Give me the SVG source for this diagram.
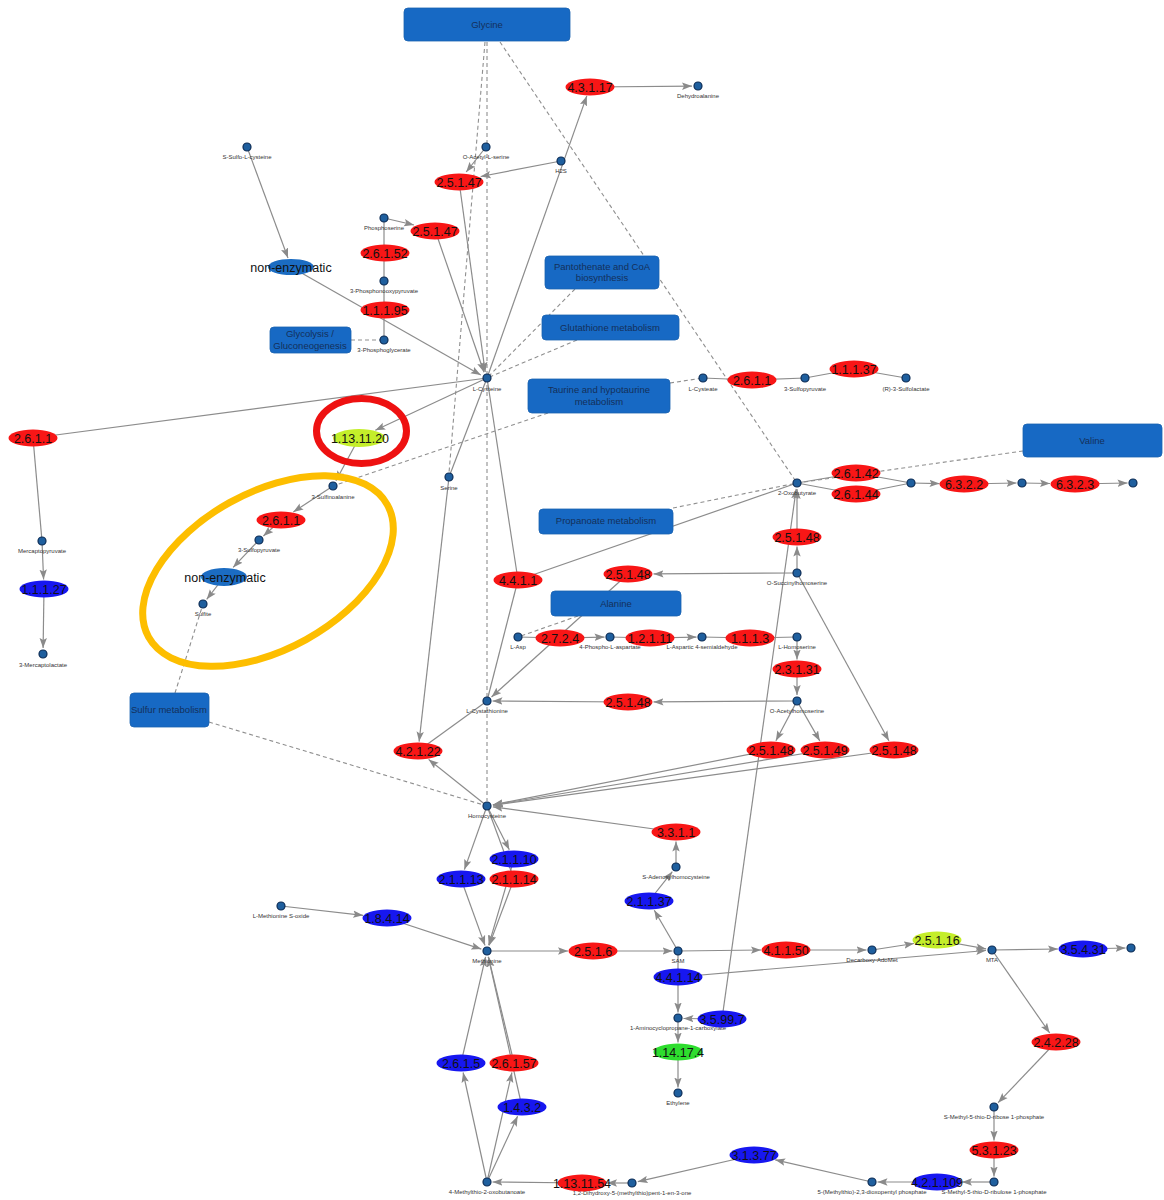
<svg xmlns="http://www.w3.org/2000/svg" width="1164" height="1200" viewBox="0 0 1164 1200">
<defs>
<marker id="arr" markerUnits="userSpaceOnUse" markerWidth="11" markerHeight="8" refX="10" refY="4" orient="auto"><path d="M0,0.3 L10,4 L0,7.7 L2,4 Z" fill="#8a8a8a"/></marker>
</defs>
<style>
.e{stroke:#8c8c8c;stroke-width:1.2;fill:none}
.a{marker-end:url(#arr)}
.d{stroke:#8f8f8f;stroke-width:1.1;stroke-dasharray:4 3;fill:none}
.m circle{fill:#1f5f9e;stroke:#0d2c55;stroke-width:1.2}
.ml{font-family:"Liberation Sans",Arial,sans-serif;font-size:6px;fill:#333;text-anchor:middle}
.t{font-family:"Liberation Sans",Arial,sans-serif;font-size:12.5px;fill:#111;text-anchor:middle}
.red{fill:#f81616}
.blu{fill:#1717f0}
.yg{fill:#c4ee2a}
.grn{fill:#2edd2e}
.ne{fill:#1b6cc2}
.box rect{fill:#1769c4;stroke:#1a62b0;stroke-width:0.8}
.bt{font-family:"Liberation Sans",Arial,sans-serif;font-size:9.5px;fill:#14305a;text-anchor:middle}
</style>
<rect width="1164" height="1200" fill="#ffffff"/>
<g id="connectors">
<line class="d" x1="487" y1="42" x2="487" y2="801"/>
<line class="d" x1="485" y1="42" x2="449" y2="473"/>
<line class="d" x1="500" y1="42" x2="797" y2="483"/>
<line class="d" x1="575" y1="289" x2="487" y2="378"/>
<line class="d" x1="577" y1="340" x2="487" y2="378"/>
<line class="d" x1="548" y1="413" x2="333" y2="486"/>
<line class="d" x1="670" y1="383" x2="703" y2="378"/>
<line class="d" x1="351" y1="340" x2="384" y2="340"/>
<line class="d" x1="1023" y1="451" x2="797" y2="483"/>
<line class="d" x1="673" y1="508" x2="797" y2="483"/>
<line class="d" x1="578" y1="616" x2="518" y2="637"/>
<line class="d" x1="175" y1="693" x2="203" y2="604"/>
<line class="d" x1="209" y1="722" x2="487" y2="806"/>
<line class="e a" x1="247" y1="147" x2="288" y2="258"/>
<line class="e a" x1="291" y1="267" x2="480.8" y2="375"/>
<line class="e" x1="384" y1="218" x2="384" y2="340"/>
<line class="e a" x1="384" y1="218" x2="414" y2="225"/>
<line class="e a" x1="435" y1="230" x2="484" y2="372.3"/>
<line class="e a" x1="459" y1="181" x2="485.2" y2="372"/>
<line class="e a" x1="486" y1="147" x2="466.2" y2="172"/>
<line class="e a" x1="561" y1="161" x2="480.7" y2="176.5"/>
<line class="e a" x1="487" y1="378" x2="586.8" y2="95.9"/>
<line class="e a" x1="590" y1="87" x2="692" y2="86.1"/>
<line class="e" x1="487" y1="378" x2="33" y2="438"/>
<line class="e" x1="33" y1="438" x2="42" y2="541"/>
<line class="e a" x1="42" y1="541" x2="43.6" y2="579.5"/>
<line class="e a" x1="44" y1="589" x2="43.1" y2="648"/>
<line class="e a" x1="487" y1="378" x2="375.3" y2="430.3"/>
<line class="e a" x1="359" y1="438" x2="335.9" y2="480.7"/>
<line class="e a" x1="333" y1="486" x2="293.3" y2="512"/>
<line class="e a" x1="281" y1="520" x2="263.4" y2="536"/>
<line class="e a" x1="259" y1="540" x2="233.1" y2="567.4"/>
<line class="e a" x1="224" y1="577" x2="206.7" y2="599.3"/>
<line class="e" x1="487" y1="378" x2="449" y2="477"/>
<line class="e a" x1="449" y1="477" x2="419.1" y2="741.6"/>
<line class="e" x1="487" y1="378" x2="518" y2="580"/>
<line class="e" x1="518" y1="580" x2="487" y2="701"/>
<line class="e" x1="518" y1="580" x2="797" y2="483"/>
<line class="e" x1="703" y1="378" x2="752" y2="380"/>
<line class="e" x1="752" y1="380" x2="805" y2="378"/>
<line class="e" x1="805" y1="378" x2="854" y2="369"/>
<line class="e" x1="854" y1="369" x2="906" y2="378"/>
<line class="e" x1="797" y1="483" x2="856" y2="473"/>
<line class="e" x1="797" y1="483" x2="856" y2="494"/>
<line class="e" x1="856" y1="473" x2="911" y2="483"/>
<line class="e" x1="856" y1="494" x2="911" y2="483"/>
<line class="e a" x1="911" y1="483" x2="939.5" y2="483.6"/>
<line class="e a" x1="964" y1="484" x2="1016.5" y2="483"/>
<line class="e a" x1="1022" y1="483" x2="1050" y2="483.5"/>
<line class="e a" x1="1075" y1="484" x2="1127.5" y2="483"/>
<line class="e a" x1="797" y1="573" x2="797" y2="546.5"/>
<line class="e a" x1="797" y1="537" x2="797" y2="489"/>
<line class="e a" x1="722" y1="1019" x2="796.2" y2="488.9"/>
<line class="e a" x1="797" y1="573" x2="653.5" y2="573.9"/>
<line class="e a" x1="628" y1="574" x2="491.5" y2="697"/>
<line class="e a" x1="797" y1="573" x2="888.9" y2="740.8"/>
<line class="e" x1="518" y1="637" x2="560" y2="638"/>
<line class="e a" x1="560" y1="638" x2="604.5" y2="637.1"/>
<line class="e" x1="610" y1="637" x2="650" y2="638"/>
<line class="e a" x1="650" y1="638" x2="696.5" y2="637.1"/>
<line class="e" x1="702" y1="637" x2="750" y2="638"/>
<line class="e" x1="750" y1="638" x2="797" y2="637"/>
<line class="e a" x1="797" y1="637" x2="797" y2="659.5"/>
<line class="e a" x1="797" y1="669" x2="797" y2="695"/>
<line class="e a" x1="797" y1="701" x2="653.5" y2="701.9"/>
<line class="e a" x1="628" y1="702" x2="492.5" y2="701"/>
<line class="e" x1="487" y1="701" x2="418" y2="751"/>
<line class="e a" x1="487" y1="806" x2="428.6" y2="759.4"/>
<line class="e a" x1="797" y1="701" x2="775.9" y2="740.7"/>
<line class="e a" x1="797" y1="701" x2="819.8" y2="740.9"/>
<line class="e a" x1="771" y1="750" x2="492.9" y2="804.8"/>
<line class="e a" x1="825" y1="750" x2="492.9" y2="805"/>
<line class="e a" x1="894" y1="750" x2="492.9" y2="805.2"/>
<line class="e a" x1="676" y1="832" x2="492.9" y2="806.8"/>
<line class="e a" x1="676" y1="867" x2="676" y2="841.5"/>
<line class="e a" x1="678" y1="951" x2="654.3" y2="910.2"/>
<line class="e a" x1="649" y1="901" x2="672.3" y2="871.7"/>
<line class="e a" x1="487" y1="806" x2="464.4" y2="869.6"/>
<line class="e a" x1="487" y1="806" x2="509.3" y2="849.7"/>
<line class="e" x1="487" y1="806" x2="514" y2="879"/>
<line class="e a" x1="461" y1="879" x2="485" y2="945.4"/>
<line class="e a" x1="514" y1="859" x2="488.7" y2="945.2"/>
<line class="e a" x1="514" y1="879" x2="489.1" y2="945.4"/>
<line class="e a" x1="281" y1="906" x2="363.1" y2="915.3"/>
<line class="e a" x1="387" y1="918" x2="481.3" y2="949.1"/>
<line class="e a" x1="487" y1="951" x2="568" y2="951"/>
<line class="e a" x1="593" y1="951" x2="672.5" y2="951"/>
<line class="e a" x1="678" y1="951" x2="761" y2="950"/>
<line class="e a" x1="786" y1="950" x2="866.5" y2="950"/>
<line class="e a" x1="872" y1="950" x2="914" y2="943.5"/>
<line class="e a" x1="937" y1="940" x2="986.1" y2="948.9"/>
<line class="e a" x1="678" y1="977" x2="986" y2="950.5"/>
<line class="e a" x1="992" y1="950" x2="1058" y2="949"/>
<line class="e a" x1="1083" y1="949" x2="1125.5" y2="948"/>
<line class="e" x1="678" y1="951" x2="678" y2="977"/>
<line class="e a" x1="678" y1="977" x2="678" y2="1012.5"/>
<line class="e a" x1="722" y1="1019" x2="683.5" y2="1018.5"/>
<line class="e a" x1="678" y1="1018" x2="678" y2="1042.5"/>
<line class="e a" x1="678" y1="1052" x2="678" y2="1087.5"/>
<line class="e a" x1="992" y1="950" x2="1049.7" y2="1033"/>
<line class="e a" x1="1056" y1="1042" x2="998.1" y2="1102.7"/>
<line class="e a" x1="994" y1="1107" x2="994" y2="1140.5"/>
<line class="e a" x1="994" y1="1150" x2="994" y2="1176.5"/>
<line class="e a" x1="994" y1="1182" x2="962" y2="1182"/>
<line class="e a" x1="937" y1="1182" x2="877.5" y2="1182"/>
<line class="e a" x1="872" y1="1182" x2="775.2" y2="1159.8"/>
<line class="e a" x1="754" y1="1155" x2="637.8" y2="1181.7"/>
<line class="e a" x1="632" y1="1183" x2="607" y2="1183"/>
<line class="e a" x1="582" y1="1183" x2="492.5" y2="1182"/>
<line class="e a" x1="487" y1="1182" x2="463.1" y2="1072.5"/>
<line class="e a" x1="487" y1="1182" x2="511.9" y2="1072.5"/>
<line class="e a" x1="487" y1="1182" x2="517.6" y2="1116.3"/>
<line class="e a" x1="461" y1="1063" x2="485.6" y2="956.8"/>
<line class="e a" x1="514" y1="1063" x2="488.4" y2="956.8"/>
<line class="e a" x1="522" y1="1107" x2="488.3" y2="956.9"/>
</g>
<g id="pathways" class="box">
<g id="p_glycine"><rect x="404" y="8" width="166" height="33" rx="4"/><text class="bt" x="487" y="28">Glycine</text></g>
<g id="p_pantothenate"><rect x="545" y="256" width="114" height="33" rx="4"/><text class="bt" x="602" y="270">Pantothenate and CoA</text><text class="bt" x="602" y="281">biosynthesis</text></g>
<g id="p_glutathione"><rect x="542" y="315" width="137" height="25" rx="4"/><text class="bt" x="610" y="331">Glutathione metabolism</text></g>
<g id="p_glycolysis"><rect x="270" y="327" width="81" height="26" rx="4"/><text class="bt" x="310" y="337">Glycolysis /</text><text class="bt" x="310" y="349">Gluconeogenesis</text></g>
<g id="p_taurine"><rect x="528" y="379" width="142" height="34" rx="4"/><text class="bt" x="599" y="393">Taurine and hypotaurine</text><text class="bt" x="599" y="405">metabolism</text></g>
<g id="p_valine"><rect x="1023" y="424" width="139" height="33" rx="4"/><text class="bt" x="1092" y="444">Valine</text></g>
<g id="p_propanoate"><rect x="539" y="509" width="134" height="25" rx="4"/><text class="bt" x="606" y="524">Propanoate metabolism</text></g>
<g id="p_alanine"><rect x="551" y="591" width="130" height="25" rx="4"/><text class="bt" x="616" y="607">Alanine</text></g>
<g id="p_sulfur"><rect x="130" y="693" width="79" height="34" rx="4"/><text class="bt" x="169" y="713">Sulfur metabolism</text></g>
</g>
<g id="metabolites" class="m">
<g id="m_ssulfo"><circle cx="247" cy="147" r="4"/><text class="ml" x="247" y="159">S-Sulfo-L-cysteine</text></g>
<g id="m_oacser"><circle cx="486" cy="147" r="4"/><text class="ml" x="486" y="159">O-Acetyl-L-serine</text></g>
<g id="m_h2s"><circle cx="561" cy="161" r="4"/><text class="ml" x="561" y="173">H2S</text></g>
<g id="m_dehydroala"><circle cx="698" cy="86" r="4"/><text class="ml" x="698" y="98">Dehydroalanine</text></g>
<g id="m_phosphoser"><circle cx="384" cy="218" r="4"/><text class="ml" x="384" y="230">Phosphoserine</text></g>
<g id="m_3ppyr"><circle cx="384" cy="281" r="4"/><text class="ml" x="384" y="293">3-Phosphonooxypyruvate</text></g>
<g id="m_3pg"><circle cx="384" cy="340" r="4"/><text class="ml" x="384" y="352">3-Phosphoglycerate</text></g>
<g id="m_lcys"><circle cx="487" cy="378" r="4"/><text class="ml" x="487" y="391">L-Cysteine</text></g>
<g id="m_lcysteate"><circle cx="703" cy="378" r="4"/><text class="ml" x="703" y="391">L-Cysteate</text></g>
<g id="m_3sp_r"><circle cx="805" cy="378" r="4"/><text class="ml" x="805" y="391">3-Sulfopyruvate</text></g>
<g id="m_r3sl"><circle cx="906" cy="378" r="4"/><text class="ml" x="906" y="391">(R)-3-Sulfolactate</text></g>
<g id="m_serine"><circle cx="449" cy="477" r="4"/><text class="ml" x="449" y="490">Serine</text></g>
<g id="m_3sulfinoala"><circle cx="333" cy="486" r="4"/><text class="ml" x="333" y="499">3-Sulfinoalanine</text></g>
<g id="m_2oxobut"><circle cx="797" cy="483" r="4"/><text class="ml" x="797" y="495">2-Oxobutyrate</text></g>
<g id="m_x1"><circle cx="911" cy="483" r="4"/></g>
<g id="m_x2"><circle cx="1022" cy="483" r="4"/></g>
<g id="m_x3"><circle cx="1133" cy="483" r="4"/></g>
<g id="m_3sp_l"><circle cx="259" cy="540" r="4"/><text class="ml" x="259" y="552">3-Sulfopyruvate</text></g>
<g id="m_mercpyr"><circle cx="42" cy="541" r="4"/><text class="ml" x="42" y="553">Mercaptopyruvate</text></g>
<g id="m_osuchser"><circle cx="797" cy="573" r="4"/><text class="ml" x="797" y="585">O-Succinylhomoserine</text></g>
<g id="m_sulfite"><circle cx="203" cy="604" r="4"/><text class="ml" x="203" y="616">Sulfite</text></g>
<g id="m_lasp"><circle cx="518" cy="637" r="4"/><text class="ml" x="518" y="649">L-Asp</text></g>
<g id="m_4pasp"><circle cx="610" cy="637" r="4"/><text class="ml" x="610" y="649">4-Phospho-L-aspartate</text></g>
<g id="m_aspsa"><circle cx="702" cy="637" r="4"/><text class="ml" x="702" y="649">L-Aspartic 4-semialdehyde</text></g>
<g id="m_lhser"><circle cx="797" cy="637" r="4"/><text class="ml" x="797" y="649">L-Homoserine</text></g>
<g id="m_3merclac"><circle cx="43" cy="654" r="4"/><text class="ml" x="43" y="667">3-Mercaptolactate</text></g>
<g id="m_oachser"><circle cx="797" cy="701" r="4"/><text class="ml" x="797" y="713">O-Acetylhomoserine</text></g>
<g id="m_lcysta"><circle cx="487" cy="701" r="4"/><text class="ml" x="487" y="713">L-Cystathionine</text></g>
<g id="m_hcys"><circle cx="487" cy="806" r="4"/><text class="ml" x="487" y="818">Homocysteine</text></g>
<g id="m_sah"><circle cx="676" cy="867" r="4"/><text class="ml" x="676" y="879">S-Adenosylhomocysteine</text></g>
<g id="m_metso"><circle cx="281" cy="906" r="4"/><text class="ml" x="281" y="918">L-Methionine S-oxide</text></g>
<g id="m_met"><circle cx="487" cy="951" r="4"/><text class="ml" x="487" y="963">Methionine</text></g>
<g id="m_sam"><circle cx="678" cy="951" r="4"/><text class="ml" x="678" y="963">SAM</text></g>
<g id="m_dcsam"><circle cx="872" cy="950" r="4"/><text class="ml" x="872" y="962">Decarboxy-AdoMet</text></g>
<g id="m_mta"><circle cx="992" cy="950" r="4"/><text class="ml" x="992" y="962">MTA</text></g>
<g id="m_x4"><circle cx="1131" cy="948" r="4"/></g>
<g id="m_acc"><circle cx="678" cy="1018" r="4"/><text class="ml" x="678" y="1030">1-Aminocyclopropane-1-carboxylate</text></g>
<g id="m_ethylene"><circle cx="678" cy="1093" r="4"/><text class="ml" x="678" y="1105">Ethylene</text></g>
<g id="m_mtr1p"><circle cx="994" cy="1107" r="4"/><text class="ml" x="994" y="1119">S-Methyl-5-thio-D-ribose 1-phosphate</text></g>
<g id="m_mtob"><circle cx="487" cy="1182" r="4"/><text class="ml" x="487" y="1194">4-Methylthio-2-oxobutanoate</text></g>
<g id="m_dhmtp"><circle cx="632" cy="1183" r="4"/><text class="ml" x="632" y="1195">1,2-Dihydroxy-5-(methylthio)pent-1-en-3-one</text></g>
<g id="m_mtdp"><circle cx="872" cy="1182" r="4"/><text class="ml" x="872" y="1194">5-(Methylthio)-2,3-dioxopentyl phosphate</text></g>
<g id="m_mtru1p"><circle cx="994" cy="1182" r="4"/><text class="ml" x="994" y="1194">S-Methyl-5-thio-D-ribulose 1-phosphate</text></g>
</g>
<g id="enzymes">
<g id="e_4_3_1_17"><ellipse class="red" cx="590" cy="87" rx="24.5" ry="8.5"/><text class="t" x="590" y="91.5">4.3.1.17</text></g>
<g id="e_2_5_1_47a"><ellipse class="red" cx="459" cy="182" rx="24.5" ry="8.5"/><text class="t" x="459" y="186.5">2.5.1.47</text></g>
<g id="e_2_5_1_47b"><ellipse class="red" cx="435" cy="231" rx="24.5" ry="8.5"/><text class="t" x="435" y="235.5">2.5.1.47</text></g>
<g id="e_2_6_1_52"><ellipse class="red" cx="385" cy="253" rx="24.5" ry="8.5"/><text class="t" x="385" y="257.5">2.6.1.52</text></g>
<g id="e_1_1_1_95"><ellipse class="red" cx="385" cy="310" rx="24.5" ry="8.5"/><text class="t" x="385" y="314.5">1.1.1.95</text></g>
<g id="e_nonenz1"><ellipse class="ne" cx="291" cy="267" rx="23" ry="8"/><text class="t" x="291" y="271.5">non-enzymatic</text></g>
<g id="e_2_6_1_1c"><ellipse class="red" cx="752" cy="380" rx="24.5" ry="8.5"/><text class="t" x="752" y="384.5">2.6.1.1</text></g>
<g id="e_1_1_1_37"><ellipse class="red" cx="854" cy="369" rx="24.5" ry="8.5"/><text class="t" x="854" y="373.5">1.1.1.37</text></g>
<g id="e_2_6_1_1a"><ellipse class="red" cx="33" cy="438" rx="24.5" ry="8.5"/><text class="t" x="33" y="442.5">2.6.1.1</text></g>
<g id="e_1_13_11_20"><ellipse class="yg" cx="359" cy="438" rx="26" ry="9"/><text class="t" x="360" y="442.5">1.13.11.20</text></g>
<g id="e_2_6_1_42"><ellipse class="red" cx="856" cy="473" rx="24.5" ry="8.5"/><text class="t" x="856" y="477.5">2.6.1.42</text></g>
<g id="e_2_6_1_44"><ellipse class="red" cx="856" cy="494" rx="24.5" ry="8.5"/><text class="t" x="856" y="498.5">2.6.1.44</text></g>
<g id="e_6_3_2_2"><ellipse class="red" cx="964" cy="484" rx="24.5" ry="8.5"/><text class="t" x="964" y="488.5">6.3.2.2</text></g>
<g id="e_6_3_2_3"><ellipse class="red" cx="1075" cy="484" rx="24.5" ry="8.5"/><text class="t" x="1075" y="488.5">6.3.2.3</text></g>
<g id="e_2_6_1_1b"><ellipse class="red" cx="281" cy="520" rx="24.5" ry="8.5"/><text class="t" x="281" y="524.5">2.6.1.1</text></g>
<g id="e_2_5_1_48a"><ellipse class="red" cx="797" cy="537" rx="24.5" ry="8.5"/><text class="t" x="797" y="541.5">2.5.1.48</text></g>
<g id="e_nonenz2"><ellipse class="ne" cx="224" cy="577" rx="23" ry="9"/><text class="t" x="225" y="581.5">non-enzymatic</text></g>
<g id="e_2_5_1_48b"><ellipse class="red" cx="628" cy="574" rx="24.5" ry="8.5"/><text class="t" x="628" y="578.5">2.5.1.48</text></g>
<g id="e_4_4_1_1"><ellipse class="red" cx="518" cy="580" rx="24.5" ry="8.5"/><text class="t" x="518" y="584.5">4.4.1.1</text></g>
<g id="e_1_1_1_27"><ellipse class="blu" cx="44" cy="589" rx="24.5" ry="8.5"/><text class="t" x="44" y="593.5">1.1.1.27</text></g>
<g id="e_2_7_2_4"><ellipse class="red" cx="560" cy="638" rx="24.5" ry="8.5"/><text class="t" x="560" y="642.5">2.7.2.4</text></g>
<g id="e_1_2_1_11"><ellipse class="red" cx="650" cy="638" rx="24.5" ry="8.5"/><text class="t" x="650" y="642.5">1.2.1.11</text></g>
<g id="e_1_1_1_3"><ellipse class="red" cx="750" cy="638" rx="24.5" ry="8.5"/><text class="t" x="750" y="642.5">1.1.1.3</text></g>
<g id="e_2_3_1_31"><ellipse class="red" cx="797" cy="669" rx="24.5" ry="8.5"/><text class="t" x="797" y="673.5">2.3.1.31</text></g>
<g id="e_2_5_1_48c"><ellipse class="red" cx="628" cy="702" rx="24.5" ry="8.5"/><text class="t" x="628" y="706.5">2.5.1.48</text></g>
<g id="e_4_2_1_22"><ellipse class="red" cx="418" cy="751" rx="24.5" ry="8.5"/><text class="t" x="418" y="755.5">4.2.1.22</text></g>
<g id="e_2_5_1_48d"><ellipse class="red" cx="771" cy="750" rx="24.5" ry="8.5"/><text class="t" x="771" y="754.5">2.5.1.48</text></g>
<g id="e_2_5_1_49"><ellipse class="red" cx="825" cy="750" rx="24.5" ry="8.5"/><text class="t" x="825" y="754.5">2.5.1.49</text></g>
<g id="e_2_5_1_48e"><ellipse class="red" cx="894" cy="750" rx="24.5" ry="8.5"/><text class="t" x="894" y="754.5">2.5.1.48</text></g>
<g id="e_3_3_1_1"><ellipse class="red" cx="676" cy="832" rx="24.5" ry="8.5"/><text class="t" x="676" y="836.5">3.3.1.1</text></g>
<g id="e_2_1_1_10"><ellipse class="blu" cx="514" cy="859" rx="24.5" ry="8.5"/><text class="t" x="514" y="863.5">2.1.1.10</text></g>
<g id="e_2_1_1_13"><ellipse class="blu" cx="461" cy="879" rx="24.5" ry="8.5"/><text class="t" x="461" y="883.5">2.1.1.13</text></g>
<g id="e_2_1_1_14"><ellipse class="red" cx="514" cy="879" rx="24.5" ry="8.5"/><text class="t" x="514" y="883.5">2.1.1.14</text></g>
<g id="e_1_8_4_14"><ellipse class="blu" cx="387" cy="918" rx="24.5" ry="8.5"/><text class="t" x="387" y="922.5">1.8.4.14</text></g>
<g id="e_2_1_1_37"><ellipse class="blu" cx="649" cy="901" rx="24.5" ry="8.5"/><text class="t" x="649" y="905.5">2.1.1.37</text></g>
<g id="e_2_5_1_6"><ellipse class="red" cx="593" cy="951" rx="24.5" ry="8.5"/><text class="t" x="593" y="955.5">2.5.1.6</text></g>
<g id="e_4_1_1_50"><ellipse class="red" cx="786" cy="950" rx="24.5" ry="8.5"/><text class="t" x="786" y="954.5">4.1.1.50</text></g>
<g id="e_2_5_1_16"><ellipse class="yg" cx="937" cy="940" rx="24.5" ry="8.5"/><text class="t" x="937" y="944.5">2.5.1.16</text></g>
<g id="e_3_5_4_31"><ellipse class="blu" cx="1083" cy="949" rx="24.5" ry="8.5"/><text class="t" x="1083" y="953.5">3.5.4.31</text></g>
<g id="e_4_4_1_14"><ellipse class="blu" cx="678" cy="977" rx="24.5" ry="8.5"/><text class="t" x="678" y="981.5">4.4.1.14</text></g>
<g id="e_3_5_99_7"><ellipse class="blu" cx="722" cy="1019" rx="24.5" ry="8.5"/><text class="t" x="722" y="1023.5">3.5.99.7</text></g>
<g id="e_1_14_17_4"><ellipse class="grn" cx="678" cy="1052" rx="24.5" ry="8.5"/><text class="t" x="678" y="1056.5">1.14.17.4</text></g>
<g id="e_2_4_2_28"><ellipse class="red" cx="1056" cy="1042" rx="24.5" ry="8.5"/><text class="t" x="1056" y="1046.5">2.4.2.28</text></g>
<g id="e_2_6_1_5"><ellipse class="blu" cx="461" cy="1063" rx="24.5" ry="8.5"/><text class="t" x="461" y="1067.5">2.6.1.5</text></g>
<g id="e_2_6_1_57"><ellipse class="red" cx="514" cy="1063" rx="24.5" ry="8.5"/><text class="t" x="514" y="1067.5">2.6.1.57</text></g>
<g id="e_1_4_3_2"><ellipse class="blu" cx="522" cy="1107" rx="24.5" ry="8.5"/><text class="t" x="522" y="1111.5">1.4.3.2</text></g>
<g id="e_5_3_1_23"><ellipse class="red" cx="994" cy="1150" rx="24.5" ry="8.5"/><text class="t" x="994" y="1154.5">5.3.1.23</text></g>
<g id="e_3_1_3_77"><ellipse class="blu" cx="754" cy="1155" rx="24.5" ry="8.5"/><text class="t" x="754" y="1159.5">3.1.3.77</text></g>
<g id="e_1_13_11_54"><ellipse class="red" cx="582" cy="1183" rx="24.5" ry="8.5"/><text class="t" x="582" y="1187.5">1.13.11.54</text></g>
<g id="e_4_2_1_109"><ellipse class="blu" cx="937" cy="1182" rx="24.5" ry="8.5"/><text class="t" x="937" y="1186.5">4.2.1.109</text></g>
</g>
<g id="highlights" fill="none">
<ellipse cx="361.5" cy="431" rx="45" ry="32.5" stroke="#ee1111" stroke-width="7"/>
<ellipse cx="268" cy="571" rx="136.5" ry="78.5" transform="rotate(-29 268 571)" stroke="#fdbe00" stroke-width="7"/>
</g>
</svg>
